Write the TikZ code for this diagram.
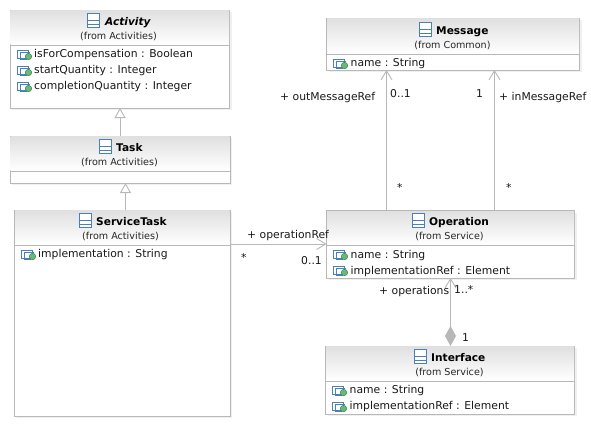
\documentclass[tikz,border=0pt]{standalone}
\usepackage{fontspec}
\setmainfont{DejaVu Sans}
\usetikzlibrary{arrows.meta,calc}
\definecolor{edge}{HTML}{B8B8B8}
\definecolor{hdr}{HTML}{E0E0E0}
\definecolor{iconblue}{HTML}{4A80B8}
\definecolor{icongreen}{HTML}{6DB878}
\definecolor{greenedge}{HTML}{2F8A4A}
\tikzset{
  umlbox/.style={draw=edge,line width=.9pt,fill=white,inner sep=0pt,outer sep=0pt,anchor=north west},
  boxshadow/.style={fill=black!6,draw=none},
  txt/.style={font=\fontsize{10.8}{12}\selectfont,inner sep=0pt,anchor=base west,text=black!90},
  ttl/.style={font=\fontsize{10.6}{12}\selectfont\bfseries,inner sep=0pt,anchor=base west},
  sub/.style={font=\fontsize{9.6}{12}\selectfont,inner sep=0pt,anchor=base,text=black!85},
  lbl/.style={txt},
  conn/.style={draw=edge,line width=1pt},
  openhead/.style={conn,-{Straight Barb[length=9pt,width=11pt,line width=.9pt]}},
  genhead/.style={conn,-{Triangle[open,length=10pt,width=11pt,fill=white,line width=.9pt]}},
  comphead/.style={conn,line width=1.2pt,{Diamond[length=20pt,width=11pt,fill=edge]}-{Straight Barb[length=9pt,width=11pt,line width=.9pt]}},
  classicon/.pic={
    \draw[iconblue,fill=white,line width=1pt] (0,0) rectangle (12,14);
    \draw[iconblue,line width=1pt] (0,7) -- (12,7) (0,10.5) -- (12,10.5);
  },
  attricon/.pic={
    \draw[iconblue,fill=white,line width=1pt] (0,1) rectangle (10.5,9);
    \draw[iconblue,line width=1pt] (2.5,3.5) -- (12,3.5) (2.5,3.5) -- (2.5,10) -- (9,10);
    \draw[greenedge,fill=icongreen,line width=.5pt] (11,7.5) circle (3.2);
  },
}
% name, x1, y1, x2, y2, divider y
\newcommand{\umlclass}[6]{%
  \fill[boxshadow] (#2+2,#3+2) rectangle (#4+2,#5+2);
  \node[umlbox,minimum width=#4pt-#2pt,minimum height=#5pt-#3pt] (#1) at (#2,#3) {};
  \shade[top color=hdr,bottom color=white] (#2+.5,#3+.5) rectangle (#4-.5,#6-.5);
  \draw[draw=edge,line width=.9pt] (#2,#6) -- (#4,#6);
}
\begin{document}
\begin{tikzpicture}[x=1pt,y=-1pt]
\useasboundingbox (0,0) rectangle (591,429);
\fill[white] (0,0) rectangle (591,429);

\umlclass{act}{10}{10}{229.5}{108}{45}
\umlclass{task}{10}{136}{230}{183}{171}
\umlclass{svc}{14.5}{210}{230}{416}{245}
\umlclass{msg}{326.5}{18}{579.5}{70}{54}
\umlclass{op}{326.5}{210.5}{574.5}{278}{245}
\umlclass{ifc}{325.5}{346}{574.5}{414}{381}

% Activity
\pic at (87.5,13.5) {classicon};
\node[ttl,font=\fontsize{10.6}{12}\selectfont\bfseries\itshape] (actT) at (105,25) {Activity};
\node[sub] (actS) at (118.5,39.5) {(from Activities)};
\pic at (17.5,49) {attricon};
\node[txt] (a1) at (34,57) {isForCompensation : Boolean};
\pic at (17.5,65) {attricon};
\node[txt] (a2) at (34,73) {startQuantity : Integer};
\pic at (17.5,81) {attricon};
\node[txt] (a3) at (34,89) {completionQuantity : Integer};

% Task
\pic at (99.5,139.5) {classicon};
\node[ttl] (taskT) at (116,151) {Task};
\node[sub] (taskS) at (119.5,165.5) {(from Activities)};

% ServiceTask
\pic at (79.5,213.5) {classicon};
\node[ttl] (svcT) at (96,225) {ServiceTask};
\node[sub] (svcS) at (120.5,239.5) {(from Activities)};
\pic at (21.5,249) {attricon};
\node[txt] (s1) at (38,257) {implementation : String};

% Message
\pic at (419.5,22.5) {classicon};
\node[ttl] (msgT) at (436,34) {Message};
\node[sub] (msgS) at (452.5,48.5) {(from Common)};
\pic at (333.5,58) {attricon};
\node[txt] (m1) at (350.5,66) {name : String};

% Operation
\pic at (412.5,213.5) {classicon};
\node[ttl] (opT) at (429,225) {Operation};
\node[sub] (opS) at (449.5,239.5) {(from Service)};
\pic at (333.5,249) {attricon};
\node[txt] (o1) at (350.5,258) {name : String};
\pic at (333.5,265) {attricon};
\node[txt] (o2) at (350.5,274) {implementationRef : Element};

% Interface
\pic at (414.5,349.5) {classicon};
\node[ttl] (ifcT) at (431,361) {Interface};
\node[sub] (ifcS) at (449.5,375.5) {(from Service)};
\pic at (332.5,385) {attricon};
\node[txt] (i1) at (349.5,393) {name : String};
\pic at (332.5,401) {attricon};
\node[txt] (i2) at (349.5,409) {implementationRef : Element};

% Connectors
\coordinate (gx1) at (120,0);
\coordinate (gx2) at (125.5,0);
\coordinate (mx1) at (386.5,0);
\coordinate (mx2) at (494.5,0);
\coordinate (cx) at (450.5,0);
\coordinate (ry) at (0,244);
\path[genhead] (task.north -| gx1) -- (act.south -| gx1);
\path[genhead] (svc.north -| gx2) -- (task.south -| gx2);
\path[openhead] (op.north -| mx1) -- (msg.south -| mx1);
\path[openhead] (op.north -| mx2) -- (msg.south -| mx2);
\path[openhead] (svc.east |- ry) -- (op.west |- ry);
\path[comphead] (ifc.north -| cx) -- (op.south -| cx);

% Labels
\node[lbl] (l1) at (247,238) {+ operationRef};
\node[lbl] (l2) at (241,261) {*};
\node[lbl] (l3) at (301,264) {0..1};
\node[lbl] (l4) at (379,294) {+ operations};
\node[lbl] (l5) at (454,293) {1..*};
\node[lbl] (l6) at (462,341) {1};
\node[lbl] (l7) at (280,100) {+ outMessageRef};
\node[lbl] (l8) at (390,97) {0..1};
\node[lbl] (l9) at (476,97) {1};
\node[lbl] (l10) at (499,100) {+ inMessageRef};
\node[lbl] (l11) at (397,191) {*};
\node[lbl] (l12) at (506,191) {*};
\end{tikzpicture}
\end{document}
